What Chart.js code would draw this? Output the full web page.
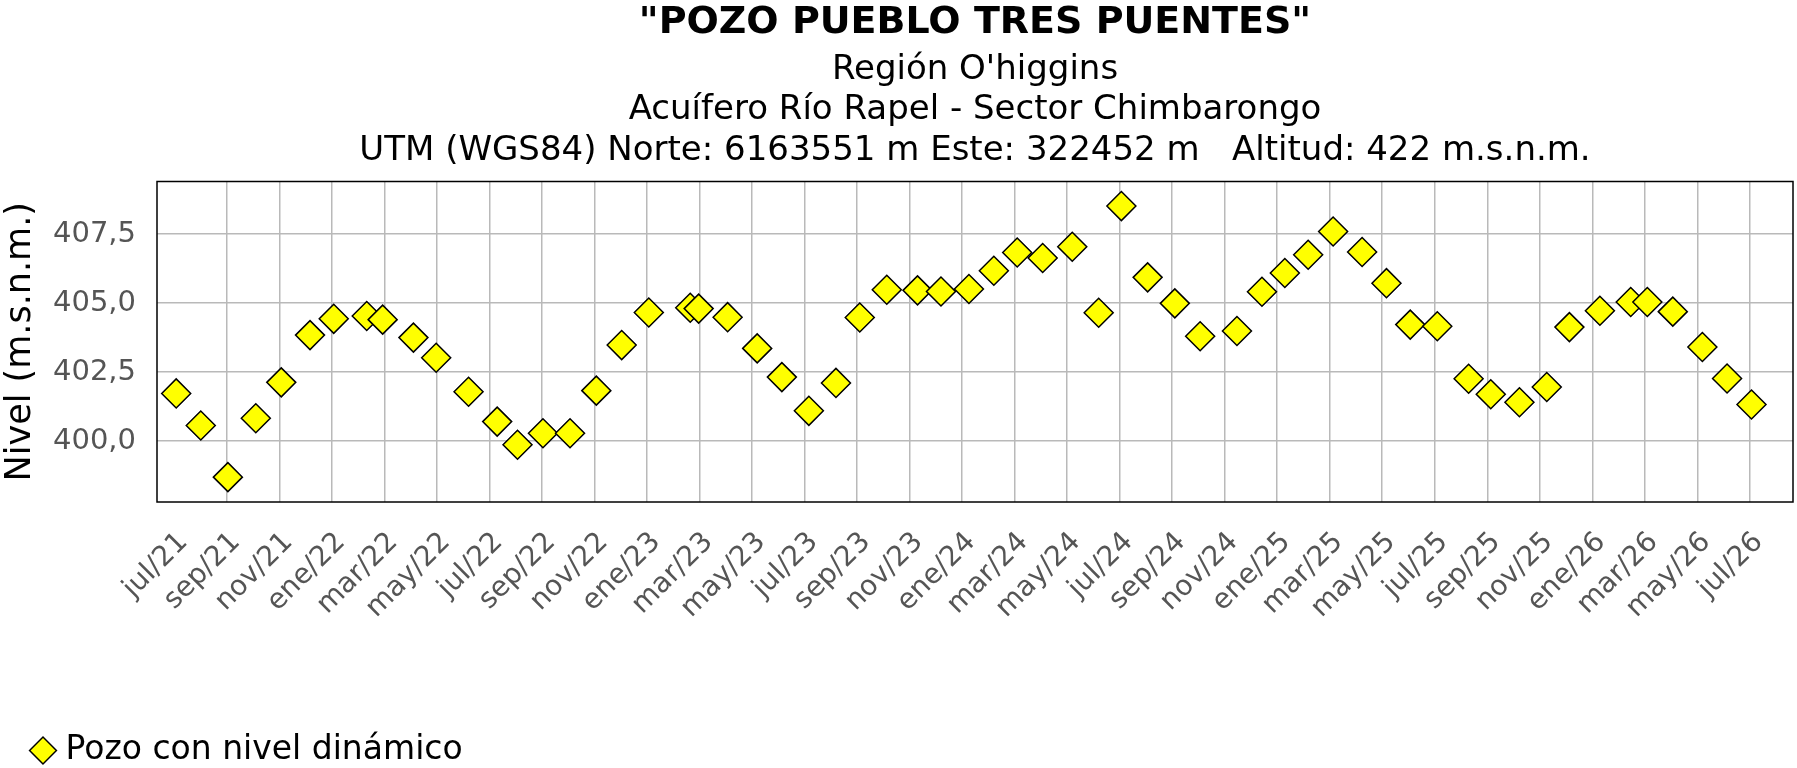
<!DOCTYPE html>
<html><head><meta charset="utf-8">
<script src="https://cdn.jsdelivr.net/npm/chart.js@4.4.1/dist/chart.umd.min.js"></script>
<style>html,body{margin:0;padding:0;background:#fff;}</style>
</head><body>
<canvas id="c" width="1797" height="768" style="width:1797px;height:768px;display:block"></canvas>
<script>
// ---------- data ----------
const titleText = '"POZO PUEBLO TRES PUENTES"';
const subtitleLines = [
  "Región O'higgins",
  "Acuífero Río Rapel - Sector Chimbarongo",
  "UTM (WGS84) Norte: 6163551 m Este: 322452 m   Altitud: 422 m.s.n.m."
];
const yAxisTitle = 'Nivel (m.s.n.m.)';
const seriesLabel = 'Pozo con nivel dinámico';

const sampleDates = [
  '2021-07-03','2021-08-01','2021-09-02','2021-10-04','2021-11-03','2021-12-06',
  '2022-01-03','2022-02-10','2022-02-27','2022-04-04','2022-04-30','2022-06-07',
  '2022-07-10','2022-08-03','2022-09-02','2022-10-03','2022-11-03','2022-12-02',
  '2023-01-03','2023-02-19','2023-02-28','2023-04-03','2023-05-07','2023-06-05',
  '2023-07-06','2023-08-07','2023-09-04','2023-10-05','2023-11-10','2023-12-07',
  '2024-01-09','2024-02-07','2024-03-04','2024-04-03','2024-05-07','2024-06-07',
  '2024-07-03','2024-08-03','2024-09-04','2024-10-03','2024-11-15','2024-12-14',
  '2025-01-10','2025-02-06','2025-03-05','2025-04-08','2025-05-06','2025-06-03',
  '2025-07-04','2025-08-10','2025-09-05','2025-10-08','2025-11-09','2025-12-05',
  '2026-01-10','2026-02-14','2026-03-04','2026-04-03','2026-05-07','2026-06-05',
  '2026-07-03'
];
const levels = [
  401.73, 400.57, 398.70, 400.83, 402.13, 403.84,
  404.43, 404.53, 404.40, 403.75, 403.02, 401.79,
  400.71, 399.87, 400.29, 400.29, 401.83, 403.48,
  404.66, 404.83, 404.80, 404.49, 403.36, 402.32,
  401.10, 402.11, 404.48, 405.48, 405.46, 405.42,
  405.51, 406.17, 406.83, 406.63, 407.04, 404.65,
  408.51, 405.93, 404.99, 403.80, 403.99, 405.41,
  406.09, 406.75, 407.59, 406.85, 405.72, 404.22,
  404.16, 402.26, 401.70, 401.41, 401.96, 404.13,
  404.72, 405.04, 405.04, 404.69, 403.41, 402.27,
  401.33
];
const xTickLabels = [
  'jul/21','sep/21','nov/21','ene/22','mar/22','may/22','jul/22','sep/22','nov/22',
  'ene/23','mar/23','may/23','jul/23','sep/23','nov/23','ene/24','mar/24','may/24',
  'jul/24','sep/24','nov/24','ene/25','mar/25','may/25','jul/25','sep/25','nov/25',
  'ene/26','mar/26','may/26','jul/26'
];
const yTickValues = [400, 402.5, 405, 407.5];
const xAxisStart = '2021-06-11';
const xAxisEnd = '2026-08-21';
const yAxisMin = 397.8;
const yAxisMax = 409.4;

// ---------- helpers ----------
const monthNames = ['ene','feb','mar','abr','may','jun','jul','ago','sep','oct','nov','dic'];
function dateToMonths(s) {
  const [y, m, d] = s.split('-').map(Number);
  const dim = new Date(y, m, 0).getDate();
  return (y - 2021) * 12 + (m - 1) + (d - 1) / dim;
}
function labelToMonths(l) {
  const [mn, yy] = l.split('/');
  return (2000 + Number(yy) - 2021) * 12 + monthNames.indexOf(mn);
}
const xTickValues = xTickLabels.map(labelToMonths);
const points = sampleDates.map((d, i) => ({x: dateToMonths(d), y: levels[i]}));

const FONT = "'DejaVu Sans', Verdana, sans-serif";
const GRID = '#b9b9b9';

const framePlugin = {
  id: 'frame',
  beforeDatasetsDraw(chart) {
    const {ctx, chartArea: a} = chart;
    ctx.save();
    ctx.strokeStyle = '#000';
    ctx.lineWidth = 1.5;
    ctx.strokeRect(a.left, a.top, a.right - a.left, a.bottom - a.top);
    ctx.restore();
  }
};

new Chart(document.getElementById('c'), {
  type: 'scatter',
  data: {
    datasets: [{
      label: seriesLabel,
      data: points,
      pointStyle: 'rectRot',
      pointRadius: 14.5,
      pointHoverRadius: 14.5,
      backgroundColor: '#ffff00',
      borderColor: '#000000',
      borderWidth: 1.5,
      showLine: false
    }]
  },
  plugins: [framePlugin],
  options: {
    responsive: false,
    animation: false,
    devicePixelRatio: 1,
    layout: {autoPadding: false, padding: {left: 0, right: 4, top: 0, bottom: -9}},
    plugins: {
      tooltip: {enabled: false},
      title: {
        display: true,
        fullSize: false,
        text: titleText,
        color: '#000',
        font: {family: FONT, size: 38, weight: 'bold', lineHeight: 1.0},
        padding: {top: 4.5, bottom: 0}
      },
      subtitle: {
        display: true,
        fullSize: false,
        text: subtitleLines,
        color: '#000',
        font: {family: FONT, size: 34, weight: 'normal', lineHeight: 40.5 / 34},
        padding: {top: 7, bottom: 10.5}
      },
      legend: {
        display: true,
        position: 'bottom',
        align: 'start',
        labels: {
          usePointStyle: true,
          boxWidth: 12,
          boxHeight: 19,
          padding: 37,
          color: '#000',
          font: {family: FONT, size: 33}
        }
      }
    },
    scales: {
      x: {
        type: 'linear',
        min: dateToMonths(xAxisStart),
        max: dateToMonths(xAxisEnd),
        afterBuildTicks: (s) => { s.ticks = xTickValues.map(v => ({value: v})); },
        afterFit: (s) => { s.height = 195; s.paddingLeft = 0; s.paddingRight = 0; },
        border: {display: false},
        grid: {
          drawTicks: false,
          lineWidth: 1.5,
          color: (c) => (c.index === 0 ? 'rgba(0,0,0,0)' : GRID)
        },
        ticks: {
          autoSkip: false,
          minRotation: 45,
          maxRotation: 45,
          padding: 24,
          labelOffset: 9,
          color: '#555555',
          font: {family: FONT, size: 28},
          callback: (v, i) => xTickLabels[i]
        }
      },
      y: {
        min: yAxisMin,
        max: yAxisMax,
        afterBuildTicks: (s) => { s.ticks = yTickValues.map(v => ({value: v})); },
        afterFit: (s) => { s.width = 157; },
        border: {display: false},
        grid: {drawTicks: false, lineWidth: 1.5, color: GRID},
        ticks: {
          padding: 21,
          color: '#555555',
          font: {family: FONT, size: 29},
          callback: (v) => v.toFixed(1).replace('.', ',')
        },
        title: {
          display: true,
          text: yAxisTitle,
          color: '#000',
          font: {family: FONT, size: 35, lineHeight: 1.2},
          padding: {top: 0, bottom: 0}
        }
      }
    }
  }
});
</script>
</body></html>
